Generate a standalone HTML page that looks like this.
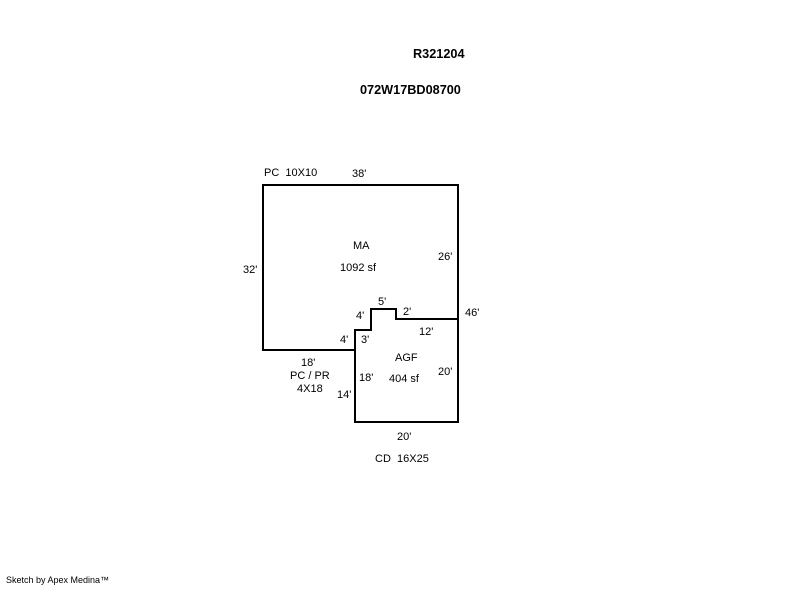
<!DOCTYPE html>
<html><head><style>
body{margin:0;background:#fff;}
svg text{font-family:"Liberation Sans",sans-serif;font-size:11px;fill:#000;white-space:pre;}
</style></head><body>
<svg width="800" height="587" xmlns="http://www.w3.org/2000/svg">
<text x="413" y="58" style="font-weight:bold;font-size:12.7px">R321204</text>
<text x="360" y="94" style="font-weight:bold;font-size:12.7px">072W17BD08700</text>
<g fill="none" stroke="#000" stroke-width="2">
<polyline points="355,350 263,350 263,185 458,185 458,422 355,422 355,330 371,330 371,309 396,309 396,319 458,319"/>
</g>
<text x="264" y="176">PC  10X10</text>
<text x="352" y="177">38'</text>
<text x="353" y="249">MA</text>
<text x="340" y="271">1092 sf</text>
<text x="243" y="273">32'</text>
<text x="438" y="260">26'</text>
<text x="465" y="316">46'</text>
<text x="378" y="305">5'</text>
<text x="403" y="315">2'</text>
<text x="356" y="319">4'</text>
<text x="419" y="335">12'</text>
<text x="340" y="343">4'</text>
<text x="361" y="343">3'</text>
<text x="395" y="361">AGF</text>
<text x="301" y="366">18'</text>
<text x="290" y="379">PC / PR</text>
<text x="297" y="392">4X18</text>
<text x="359" y="381">18'</text>
<text x="389" y="382">404 sf</text>
<text x="438" y="375">20'</text>
<text x="337" y="398">14'</text>
<text x="397" y="440">20'</text>
<text x="375" y="462">CD  16X25</text>
<text x="6" y="583" style="font-size:9px">Sketch by Apex Medina™</text>
</svg>
</body></html>
